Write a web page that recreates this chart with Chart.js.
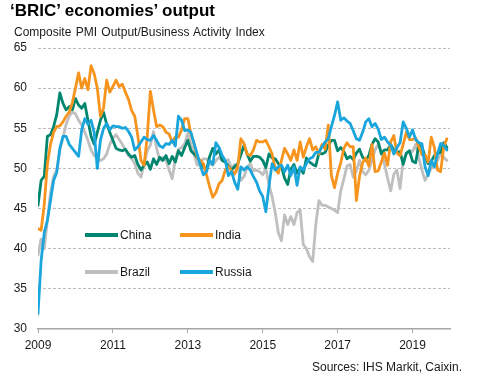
<!DOCTYPE html>
<html><head><meta charset="utf-8">
<script src="https://cdn.jsdelivr.net/npm/chart.js@4"></script>
<style>
html,body{margin:0;padding:0;background:#fff;}
#wrap{position:relative;width:481px;height:382px;overflow:hidden;font-family:"Liberation Sans",Arial,sans-serif;color:#1a1a1a;}
#c{position:absolute;left:0;top:0;}
.t{position:absolute;white-space:nowrap;line-height:1;}
.lg{position:absolute;height:4px;width:33px;}
</style></head><body>
<div id="wrap">
<canvas id="c" width="481" height="382"></canvas>
<div class="t" style="left:10px;top:2px;font-size:17px;font-weight:bold;color:#000;">‘BRIC’ economies’ output</div>
<div class="t" style="left:14px;top:26px;font-size:12px;word-spacing:1px;">Composite PMI Output/Business Activity Index</div>
<div class="t" style="right:19px;top:361px;font-size:12px;">Sources: IHS Markit, Caixin.</div>
<div id="legend"></div>
</div>
<script>
const startYear = 2009;
const yearTicks = [2009, 2011, 2013, 2015, 2017, 2019];
const valueTicks = [30, 35, 40, 45, 50, 55, 60, 65];
const seriesNames = ['China', 'India', 'Brazil', 'Russia'];

const china = [
45.4, 48.5, 49.0, 54.0, 54.2, 55.2, 56.7, 59.4, 58.1, 57.3, 57.7, 57.3,
58.7, 57.9, 57.5, 58.1, 56.0, 54.0, 53.0, 54.5, 56.0, 57.0, 55.5, 54.5,
53.5, 52.5, 52.3, 52.2, 52.4, 51.8, 51.4, 51.6, 50.5, 49.8, 50.4, 50.8,
49.9, 51.2, 50.5, 51.4, 51.0, 51.6, 50.6, 51.5, 50.8, 52.2, 51.6, 52.6,
53.5, 52.2, 51.8, 51.4, 50.8, 50.2, 49.8, 51.5, 52.5, 51.8, 52.3, 51.0,
50.8, 50.3, 49.8, 50.2, 50.6, 51.7, 52.9, 51.8, 50.9, 51.5, 51.5, 51.4,
51.0, 50.1, 51.8, 51.3, 51.2, 50.6, 50.2, 48.8, 48.0, 49.9, 50.5, 49.4,
50.1, 49.4, 51.3, 50.8, 50.5, 50.3, 51.9, 51.8, 52.0, 52.9, 53.5, 53.5,
52.2, 52.6, 52.1, 51.2, 51.5, 51.1, 51.9, 52.4, 51.4, 51.0, 51.6, 53.0,
53.7, 53.3, 51.8, 52.3, 52.3, 53.0, 52.3, 52.0, 52.1, 50.5, 51.9, 52.2,
50.9, 50.7, 52.9, 52.7, 51.5, 50.6, 50.9, 51.6, 51.9, 52.0, 53.2, 52.6];

const india = [
42.5, 42.3, 45.5, 50.5, 53.0, 54.5, 55.2, 55.3, 55.8, 56.5, 57.0, 58.2,
60.0, 61.9, 60.0, 61.2, 59.8, 62.8, 61.8, 60.0, 56.5, 57.5, 61.0, 59.5,
60.2, 61.0, 60.2, 60.5, 59.5, 58.6, 57.2, 56.5, 54.0, 51.0, 50.4, 54.0,
59.6, 57.3, 55.2, 55.4, 55.2, 54.5, 54.3, 53.3, 53.9, 53.9, 54.8, 56.2,
56.2, 54.3, 53.1, 51.4, 51.0, 50.6, 49.2, 47.7, 46.4, 47.0, 48.1, 48.5,
49.8, 50.2, 49.7, 49.3, 50.2, 53.7, 53.1, 51.8, 51.6, 52.3, 53.5, 53.3,
53.3, 53.5, 52.7, 51.8, 50.0, 49.4, 51.0, 52.5, 51.8, 51.0, 52.3, 51.0,
53.3, 51.4, 52.7, 53.7, 52.3, 52.7, 51.8, 53.0, 52.4, 55.4, 49.1, 47.6,
49.4, 50.7, 52.5, 53.2, 52.7, 52.7, 46.0, 49.0, 50.7, 51.3, 50.3, 53.0,
49.6, 49.7, 50.8, 51.9, 50.4, 53.3, 54.1, 51.9, 51.6, 53.0, 54.5, 53.6,
53.6, 53.8, 52.7, 51.7, 51.7, 50.8, 53.9, 52.6, 49.8, 49.6, 52.7, 53.7];

const brazil = [
39.2, 41.2, 40.0, 43.5, 47.0, 49.0, 49.8, 52.3, 53.8, 55.5, 56.5, 57.0,
56.8, 56.0, 55.4, 54.5, 53.5, 52.3, 51.6, 51.3, 51.0, 51.2, 51.8, 53.0,
53.8, 54.2, 53.6, 53.0, 52.3, 51.6, 51.2, 50.6, 49.4, 48.9, 50.6, 52.2,
52.9, 54.6, 52.5, 51.0, 51.4, 51.0, 49.8, 48.7, 51.2, 52.4, 52.6, 53.1,
54.4, 53.0, 51.8, 50.4, 50.8, 51.2, 51.2, 50.6, 50.4, 51.0, 51.4, 51.0,
50.8, 51.1, 50.0, 50.5, 50.1, 48.5, 49.0, 50.1, 50.6, 49.7, 49.8, 49.6,
49.2, 50.0, 48.0, 46.5, 44.5, 42.0, 41.0, 44.2, 43.0, 44.0, 43.0, 44.5,
44.8, 40.5, 40.0, 39.0, 38.4, 43.0, 46.0, 45.4, 45.4, 45.2, 45.0, 44.8,
44.5, 47.2, 48.7, 50.3, 50.5, 48.9, 49.7, 51.0, 49.6, 49.2, 49.8, 51.0,
52.3, 53.0, 52.2, 50.5, 48.8, 47.2, 49.3, 49.8, 47.5, 51.0, 51.8, 52.2,
52.1, 53.0, 51.3, 49.8, 48.5, 49.3, 50.0, 50.5, 51.0, 51.8, 51.4, 51.0];

const russia = [
31.9, 38.5, 42.0, 43.5, 46.0, 48.5, 49.5, 52.5, 54.0, 54.0, 53.0, 52.5,
52.0, 51.5, 54.8, 56.2, 55.5, 56.0, 54.5, 50.0, 53.5, 55.0, 55.6, 54.8,
55.3, 55.2, 55.2, 55.0, 55.1, 54.6, 53.9, 52.3, 52.7, 53.3, 53.9, 53.6,
53.5, 54.1, 53.5, 52.8, 52.6, 53.1, 53.0, 53.5, 52.8, 56.5, 56.0, 54.7,
54.8, 54.5, 53.1, 51.8, 50.4, 49.2, 49.6, 51.0, 50.5, 53.2, 52.6, 51.6,
51.0, 49.1, 49.6, 48.3, 47.4, 50.2, 49.8, 50.2, 49.8, 49.0, 48.3, 47.2,
46.5, 44.6, 47.8, 50.6, 49.8, 50.2, 50.4, 49.6, 50.4, 49.1, 50.2, 47.9,
50.2, 49.8, 50.6, 51.2, 51.4, 52.0, 52.0, 52.7, 53.3, 53.7, 55.2, 56.6,
58.3, 56.0, 56.3, 55.9, 55.6, 54.7, 53.7, 53.5, 54.5, 55.8, 56.2, 55.2,
55.6, 54.9, 53.6, 53.9, 53.3, 52.9, 51.8, 52.6, 53.2, 55.8, 55.0, 53.9,
54.8, 53.6, 53.2, 53.1, 50.2, 49.1, 51.0, 50.2, 51.8, 53.1, 52.9, 52.3];

const colors = {China: '#00866e', India: '#f7941d', Brazil: '#bfbfbf', Russia: '#1aa5dc'};
const seriesData = {China: china, India: india, Brazil: brazil, Russia: russia};

function toPoints(arr) { return arr.map((v, i) => ({x: startYear + i / 12, y: v})); }

// drawing order: first dataset is drawn on top
const drawOrder = ['Russia', 'India', 'China', 'Brazil'];
const datasets = drawOrder.map(n => ({
  label: n, data: toPoints(seriesData[n]), borderColor: colors[n], backgroundColor: colors[n],
  borderWidth: 2.8, pointRadius: 0, tension: 0, fill: false, borderJoinStyle: 'round', borderCapStyle: 'round'
}));

const FONT = {family: '"Liberation Sans", Arial, sans-serif', size: 12};

new Chart(document.getElementById('c'), {
  type: 'line',
  data: {datasets},
  options: {
    responsive: false, animation: false, devicePixelRatio: 1,
    layout: {padding: {left: 0, right: 31, top: 48, bottom: 23}},
    plugins: {legend: {display: false}, tooltip: {enabled: false}, title: {display: false}},
    scales: {
      x: {
        type: 'linear', min: 2009, max: 2020,
        afterBuildTicks: s => { s.ticks = yearTicks.map(v => ({value: v})); },
        afterFit: s => { s.height = 30; },
        grid: {display: true, drawOnChartArea: false, drawTicks: true, tickLength: 4, color: '#a6a6a6', lineWidth: 1},
        border: {display: true, color: '#a6a6a6', width: 1.5},
        ticks: {padding: 5, color: '#1a1a1a', font: FONT, maxRotation: 0, autoSkip: false, callback: v => String(v)}
      },
      y: {
        min: 30, max: 65,
        afterBuildTicks: s => { s.ticks = valueTicks.map(v => ({value: v})); },
        afterFit: s => { s.width = 38; },
        grid: {drawTicks: false, lineWidth: 1, color: c => (c.tick && c.tick.value === 30) ? 'rgba(0,0,0,0)' : '#bcbcbc'},
        border: {display: false, dash: [3, 2]},
        ticks: {padding: 11, color: '#1a1a1a', font: FONT, callback: v => String(v)}
      }
    }
  }
});

// legend (HTML text)
const legendPos = {China: [85, 235], India: [180, 235], Brazil: [85, 272], Russia: [180, 272]};
const lg = document.getElementById('legend');
seriesNames.forEach(n => {
  const [x, y] = legendPos[n];
  const line = document.createElement('div');
  line.className = 'lg';
  line.style.left = x + 'px'; line.style.top = (y - 2) + 'px'; line.style.background = colors[n];
  lg.appendChild(line);
  const t = document.createElement('div');
  t.className = 't';
  t.style.left = (x + 35) + 'px'; t.style.top = (y - 6) + 'px'; t.style.fontSize = '12px';
  t.textContent = n;
  lg.appendChild(t);
});
</script>
</body></html>
